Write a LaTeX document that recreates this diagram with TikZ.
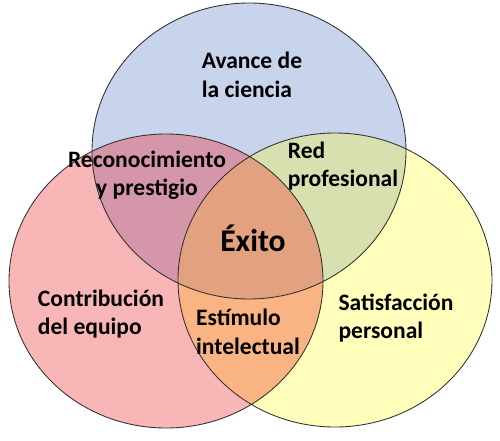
\documentclass[tikz,border=0pt]{standalone}
\usepackage{fontspec}
\setmainfont{Carlito}
\usepackage{tikz}
\usetikzlibrary{positioning}

\definecolor{ciencia}{RGB}{200,212,236}
\definecolor{equipo}{RGB}{249,182,183}
\definecolor{personal}{RGB}{255,255,187}
\definecolor{prestigio}{RGB}{214,150,170}
\definecolor{redprof}{RGB}{216,224,176}
\definecolor{estimulo}{RGB}{250,180,132}
\definecolor{exito}{RGB}{226,162,128}

\begin{document}
\begin{tikzpicture}[x=0.02cm,y=-0.02cm,
    lbl/.style={font=\fontsize{13.4}{16.2}\selectfont\bfseries,align=left,inner sep=0pt}]
    \useasboundingbox (0,0) rectangle (500,440);
    \def\topset{(249,151) ellipse [x radius=157, y radius=148]}
    \def\leftset{(166,281) ellipse [x radius=157, y radius=147]}
    \def\rightset{(335,280) ellipse [x radius=157, y radius=147]}
    % Fondos
    \fill[ciencia] \topset;
    \fill[equipo] \leftset;
    \fill[personal] \rightset;
    % Intersecciones
    \begin{scope}
        \clip \topset;
        \fill[prestigio] \leftset;
        \fill[redprof] \rightset;
    \end{scope}
    \begin{scope}
        \clip \leftset;
        \fill[estimulo] \rightset;
        \clip \rightset;
        \fill[exito] \topset;
    \end{scope}
    % Bordes
    \draw[black!80,line width=0.5pt] \topset \leftset \rightset;
    % Textos
    \node[lbl] (avance) at (252,75) {Avance de\\la ciencia};
    \node[lbl,align=center] (reconoc) at (147,175) {Reconocimiento\\y prestigio};
    \node[lbl] (red) at (343,166) {Red\\profesional};
    \node[font=\fontsize{18}{20}\selectfont\bfseries,inner sep=0pt] (exito) at (253,238) {Éxito};
    \node[lbl] (contrib) at (101,314) {Contribución\\del equipo};
    \node[lbl] (estim) at (248,332) {Estímulo\\intelectual};
    \node[lbl] (satisf) at (396,318) {Satisfacción\\personal};
\end{tikzpicture}
\end{document}
